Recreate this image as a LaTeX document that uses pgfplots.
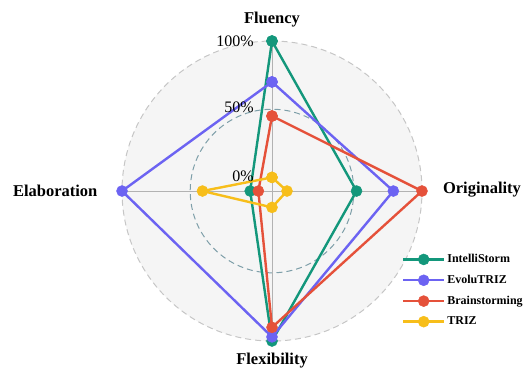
\documentclass[border=0pt]{standalone}
\usepackage{pgfplots}
\pgfplotsset{compat=1.18}
\usepackage{pgfplotstable}
\usepackage{fontspec}
\setmainfont{Liberation Serif}
\definecolor{cgreen}{HTML}{13977B}
\definecolor{cblue}{HTML}{6C63F2}
\definecolor{cred}{HTML}{E5513A}
\definecolor{cyellow}{HTML}{F7BE1A}
\definecolor{bgc}{HTML}{F5F5F5}
\definecolor{outc}{HTML}{C6C6C6}
\definecolor{innc}{HTML}{7E9FA9}
\pgfplotstableread{
a v
90 100
0 52
270 100
180 6
90 100
}\intelli
\pgfplotstableread{
a v
90 70
0 79
270 97
180 100
90 70
}\evolu
\pgfplotstableread{
a v
90 45
0 100
270 90
180 0
90 45
}\brain
\pgfplotstableread{
a v
90 0
0 1
270 2
180 41
90 0
}\triz
\begin{document}
\begin{tikzpicture}
\path[use as bounding box] (0,0) rectangle (529pt,368pt);
\begin{axis}[
  at={(0,0)}, anchor=south west,
  width=529pt, height=368pt, scale only axis,
  xmin=-199.5, xmax=188.5, ymin=-129.8, ymax=140.1,
  hide axis, clip=false,
  legend style={draw=none, fill=none, at={(axis cs:93,-43.5)}, anchor=north west,
    font=\bfseries\fontsize{12}{13}\selectfont, row sep=7pt,
    nodes={inner sep=2pt}},
  legend cell align=left,
  every axis legend/.append style={/tikz/every even column/.append style={column sep=5pt}},
  legend image code/.code={\draw[mark repeat=2,mark phase=2] plot coordinates {(0pt,0pt)(20.5pt,0pt)(41pt,0pt)};},
]
\fill[bgc] (axis cs:0,0) circle[radius=150pt];
\draw[outc, line width=1pt, dash pattern=on 6pt off 4pt] (axis cs:0,0) circle[radius=150pt];
\draw[innc, line width=1pt, dash pattern=on 6pt off 4pt] (axis cs:0,0) circle[radius=81.8pt];
\draw[black!30, line width=0.7pt] (axis cs:-110,0) -- (axis cs:110,0);
\draw[black!30, line width=0.7pt] (axis cs:0,-110) -- (axis cs:0,110);
\addplot[cgreen, line width=2.4pt, mark=*, mark size=5.5pt, mark options={fill=cgreen, draw=cgreen, line width=0.5pt}]
  table[x expr={(\thisrow{v}+10)*cos(\thisrow{a})}, y expr={(\thisrow{v}+10)*sin(\thisrow{a})}] {\intelli};
\addlegendentry{IntelliStorm}
\addplot[cblue, line width=2.4pt, mark=*, mark size=5.5pt, mark options={fill=cblue, draw=cblue, line width=0.5pt}]
  table[x expr={(\thisrow{v}+10)*cos(\thisrow{a})}, y expr={(\thisrow{v}+10)*sin(\thisrow{a})}] {\evolu};
\addlegendentry{EvoluTRIZ}
\addplot[cred, line width=2.4pt, mark=*, mark size=5.5pt, mark options={fill=cred, draw=cred, line width=0.5pt}]
  table[x expr={(\thisrow{v}+10)*cos(\thisrow{a})}, y expr={(\thisrow{v}+10)*sin(\thisrow{a})}] {\brain};
\addlegendentry{Brainstorming}
\addplot[cyellow, line width=2.4pt, mark=*, mark size=5.5pt, mark options={fill=cyellow, draw=cyellow, line width=0.5pt}]
  table[x expr={(\thisrow{v}+10)*cos(\thisrow{a})}, y expr={(\thisrow{v}+10)*sin(\thisrow{a})}] {\triz};
\addlegendentry{TRIZ}
\node[font=\bfseries\fontsize{16.5}{18}\selectfont] at (axis cs:0,126) {Fluency};
\node[font=\bfseries\fontsize{16.5}{18}\selectfont] at (axis cs:154,0.7) {Originality};
\node[font=\bfseries\fontsize{16.5}{18}\selectfont] at (axis cs:-159,0) {Elaboration};
\node[font=\bfseries\fontsize{16.5}{18}\selectfont] at (axis cs:0,-124) {Flexibility};
\node[anchor=east, inner sep=0pt, font=\fontsize{16}{18}\selectfont] at (axis cs:-13.2,110) {100\%};
\node[anchor=east, inner sep=0pt, font=\fontsize{16}{18}\selectfont] at (axis cs:-13.2,61.6) {50\%};
\node[anchor=east, inner sep=0pt, font=\fontsize{16}{18}\selectfont] at (axis cs:-13.2,11) {0\%};
\end{axis}
\end{tikzpicture}
\end{document}
